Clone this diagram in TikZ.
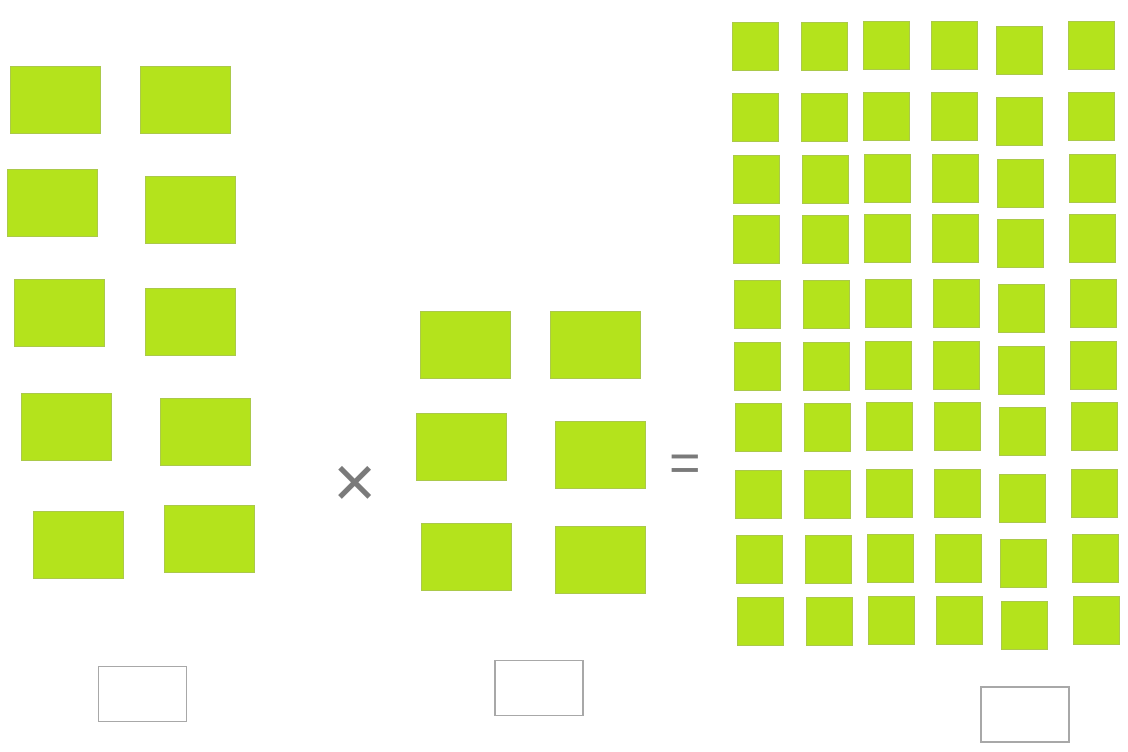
\documentclass[tikz,border=0pt]{standalone}
\usepackage{fontspec}
\usepackage{tikz}
\newfontfamily\signfont{Liberation Sans}
\definecolor{Lime}{HTML}{B4E31C}
\definecolor{LimeEdge}{HTML}{ABC94A}
\definecolor{Frame}{HTML}{A8A8A8}
\definecolor{Sign}{HTML}{7A7A7A}

\begin{document}
\begin{tikzpicture}[
  x=1pt,y=-1pt,
  tile/.style={draw=LimeEdge,fill=Lime,line width=0.8pt,inner sep=0pt},
  bigtile/.style={tile,minimum width=90pt,minimum height=67pt},
  smalltile/.style={tile,minimum width=46pt,minimum height=48pt},
  answer/.style={draw=Frame,line width=1.3pt,inner sep=0pt,minimum width=88pt,minimum height=55pt},
  sign/.style={text=Sign,inner sep=0pt}
]
\useasboundingbox (0,0) rectangle (1128,752);

% first factor: five rows of two
\node[bigtile] (a11) at (55,100) {};
\node[bigtile] (a12) at (185.5,100) {};
\node[bigtile] (a21) at (52,202.5) {};
\node[bigtile] (a22) at (190.5,210) {};
\node[bigtile] (a31) at (59.5,312.5) {};
\node[bigtile] (a32) at (190.5,322) {};
\node[bigtile] (a41) at (66,426.5) {};
\node[bigtile] (a42) at (205,431.5) {};
\node[bigtile] (a51) at (78.5,544.5) {};
\node[bigtile] (a52) at (209.5,538.5) {};

% second factor: three rows of two
\node[bigtile] (b11) at (465,344.5) {};
\node[bigtile] (b12) at (595.5,344.5) {};
\node[bigtile] (b21) at (461.5,446.5) {};
\node[bigtile] (b22) at (600.5,454.5) {};
\node[bigtile] (b31) at (466.5,556.5) {};
\node[bigtile] (b32) at (600.5,559.5) {};

% product: ten rows of six
\foreach \r/\y in {1/22,2/93,3/155,4/215,5/280,6/342,7/403,8/470,9/535,10/597}
  \foreach \c/\x/\dy in {1/732/0,2/801/0,3/863/-1,4/931/-1,5/996/4,6/1068/-1}
    \node[smalltile] (c\r-\c) at ({\x+23+(\r-1)*0.55},{\y+24+\dy}) {};

\node[sign,font=\signfont\fontsize{74}{74}\selectfont] (times) at (355,487) {×};
\node[sign,font=\signfont\fontsize{54}{54}\selectfont] (equals) at (685,468) {=};

\node[answer] (ansleft) at (142.5,694) {};
\node[answer] (ansmid) at (539,688) {};
\node[answer] (ansright) at (1025,714.5) {};
\end{tikzpicture}
\end{document}
